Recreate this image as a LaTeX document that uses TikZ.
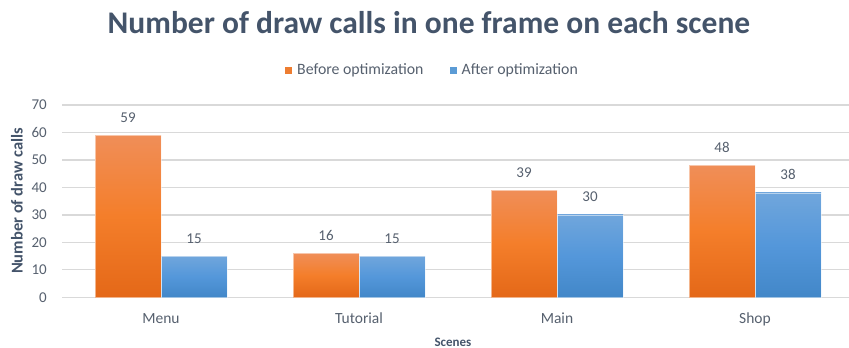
\documentclass[tikz,border=0pt]{standalone}
\usepackage{fontspec}
\setmainfont{Carlito}
\definecolor{titlec}{HTML}{44546A}
\definecolor{txtc}{HTML}{56606E}
\definecolor{gridc}{HTML}{D9D9D9}
\definecolor{orT}{RGB}{240,142,88}
\definecolor{orM}{RGB}{244,126,42}
\definecolor{orB}{RGB}{228,104,24}
\definecolor{blT}{RGB}{112,166,220}
\definecolor{blM}{RGB}{84,151,218}
\definecolor{blB}{RGB}{66,135,200}
\definecolor{orL}{RGB}{237,125,49}
\definecolor{blL}{RGB}{91,155,213}
\tikzset{
  gridline/.style={draw=gridc,line width=1.3pt},
  tick/.style={font=\fontsize{15}{17}\selectfont,text=txtc,inner sep=0pt},
  cat/.style={font=\fontsize{15.5}{17}\selectfont,text=txtc,inner sep=0pt,anchor=base},
  val/.style={font=\fontsize{15}{17}\selectfont,text=txtc,inner sep=0pt,anchor=base},
  axtitle/.style={font=\bfseries\fontsize{13}{16}\selectfont,text=titlec,inner sep=0pt},
  ytitle/.style={font=\bfseries\fontsize{16.5}{18}\selectfont,text=titlec,inner sep=0pt},
  legtext/.style={font=\fontsize{15.8}{17}\selectfont,text=txtc,inner sep=0pt,anchor=west},
  orbar/.style={top color=orT,bottom color=orB,middle color=orM},
  blbar/.style={top color=blT,bottom color=blB,middle color=blM},
  barline/.style={draw=white,draw opacity=0.5,line width=0.5pt},
}
\begin{document}
\begin{tikzpicture}[x=1pt,y=-1pt]
\useasboundingbox (0,0) rectangle (849,348);
\clip (0,0) rectangle (849,348);
% title
\node[font=\bfseries\fontsize{31.5}{34}\selectfont,text=titlec,inner sep=0pt,anchor=base] (title) at (429,34) {Number of draw calls in one frame on each scene};
% legend
\fill[orL] (285,67) rectangle (292,74);
\node[legtext] (leg1) at (297,70.5) {Before optimization};
\fill[blL] (449.5,67) rectangle (456.5,74);
\node[legtext] (leg2) at (461.5,70.5) {After optimization};
% grid and ticks
\foreach \v in {0,...,7}{
  \pgfmathsetmacro\yy{297.3-\v*27.471}
  \draw[gridline] (62,\yy) -- (849,\yy);
  \pgfmathtruncatemacro\lab{\v*10}
  \node[tick,anchor=east] (t\v) at (47,\yy) {\lab};
}
% bars
\foreach \i/\nm/\a/\b in {0/Menu/59/15,1/Tutorial/16/15,2/Main/39/30,3/Shop/48/38}{
  \pgfmathsetmacro\c{161+198*\i}
  \pgfmathsetmacro\ya{297.3-\a*2.7471}
  \pgfmathsetmacro\yb{297.3-\b*2.7471}
  \shade[orbar] (\c-66,297.3) rectangle (\c,\ya);
  \shade[blbar] (\c,297.3) rectangle (\c+66,\yb);
  \draw[barline] (\c-66,297.3) rectangle (\c,\ya);
  \draw[barline] (\c,297.3) rectangle (\c+66,\yb);
  \node[val] (va\i) at (\c-33,\ya-13) {\a};
  \node[val] (vb\i) at (\c+33,\yb-13) {\b};
  \node[cat] (c\i) at (\c,323.5) {\nm};
}
% axis titles
\node[axtitle,anchor=base] (xt) at (453,346) {Scenes};
\node[ytitle,rotate=90] (yt) at (17,201) {Number of draw calls};
\end{tikzpicture}
\end{document}
